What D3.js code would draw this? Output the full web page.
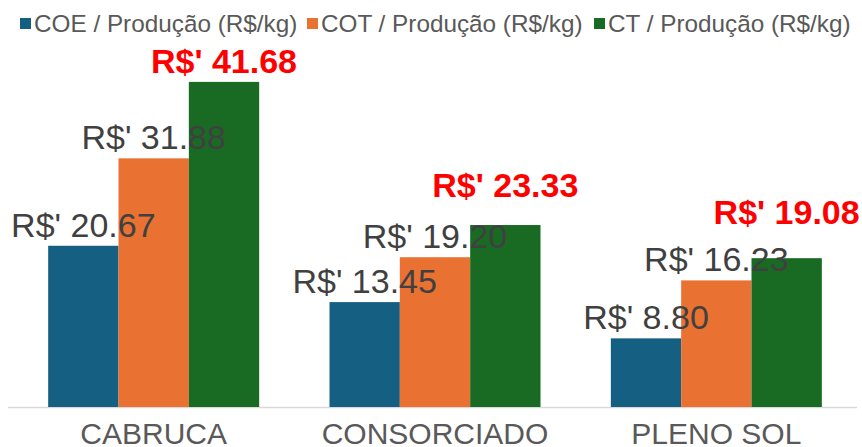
<!DOCTYPE html>
<html>
<head>
<meta charset="utf-8">
<script src="https://cdn.jsdelivr.net/npm/d3@7"></script>
<style>
  body { margin: 0; background: #fff; }
  text { font-family: "Liberation Sans", Arial, sans-serif; }
</style>
</head>
<body>
<script>
var categories = ["CABRUCA", "CONSORCIADO", "PLENO SOL"];
var seriesNames = ["COE / Produção (R$/kg)", "COT / Produção (R$/kg)", "CT / Produção (R$/kg)"];
var coe = [20.67, 13.45, 8.80];
var cot = [31.88, 19.20, 16.23];
var ct = [41.68, 23.33, 19.08];
var colors = ["#156082", "#E97132", "#196B24"];

var width = 862, height = 447;
var baseY = 407;
// red labels on the smaller groups sit a bit higher in the original
var redLift = [0, 19, 25];

var svg = d3.select("body").append("svg").attr("width", width).attr("height", height);

var series = [coe, cot, ct];

var x0 = d3.scaleBand().domain(categories).range([13, 857]).paddingInner(0.25).paddingOuter(0.125);
var x1 = d3.scaleBand().domain(d3.range(3)).range([0, x0.bandwidth()]);
var y = d3.scaleLinear().domain([0, 45]).range([baseY, baseY - 45 * 7.8]);

// axis line
svg.append("line").attr("x1", 8).attr("x2", 857).attr("y1", baseY + 0.5).attr("y2", baseY + 0.5)
  .attr("stroke", "#d9d9d9").attr("stroke-width", 1.5);

var groups = svg.selectAll("g.grp").data(categories).enter().append("g")
  .attr("class", "grp")
  .attr("transform", function(d){ return "translate(" + x0(d) + ",0)"; });

groups.each(function(cat, ci){
  var g = d3.select(this);
  series.forEach(function(s, si){
    g.append("rect")
      .attr("x", x1(si)).attr("width", x1.bandwidth())
      .attr("y", y(s[ci])).attr("height", baseY - y(s[ci]))
      .attr("fill", colors[si]);
  });
  series.forEach(function(s, si){
    var red = si === 2;
    g.append("text")
      .attr("x", x1(si) + x1.bandwidth() / 2)
      .attr("y", y(s[ci]) - 9 - (red ? redLift[ci] : 0))
      .attr("text-anchor", "middle")
      .attr("font-size", 34)
      .attr("font-weight", red ? "bold" : "normal")
      .attr("fill", red ? "#FF0000" : "#404040")
      .text("R$' " + s[ci].toFixed(2));
  });
});

// category labels
svg.selectAll("text.cat").data(categories).enter().append("text")
  .attr("class", "cat")
  .attr("x", function(d){ return x0(d) + x0.bandwidth() / 2; })
  .attr("y", 444)
  .attr("text-anchor", "middle")
  .attr("font-size", 30)
  .attr("fill", "#595959")
  .text(function(d){ return d; });

// legend
var legX = [20, 307, 594];
var leg = svg.selectAll("g.leg").data(seriesNames).enter().append("g")
  .attr("class", "leg")
  .attr("transform", function(d, i){ return "translate(" + legX[i] + ",0)"; });
leg.append("rect").attr("x", 0).attr("y", 18).attr("width", 11).attr("height", 11)
  .attr("fill", function(d, i){ return colors[i]; });
leg.append("text").attr("x", 14).attr("y", 32)
  .attr("font-size", 24.3).attr("fill", "#595959")
  .text(function(d){ return d; });
</script>
</body>
</html>
